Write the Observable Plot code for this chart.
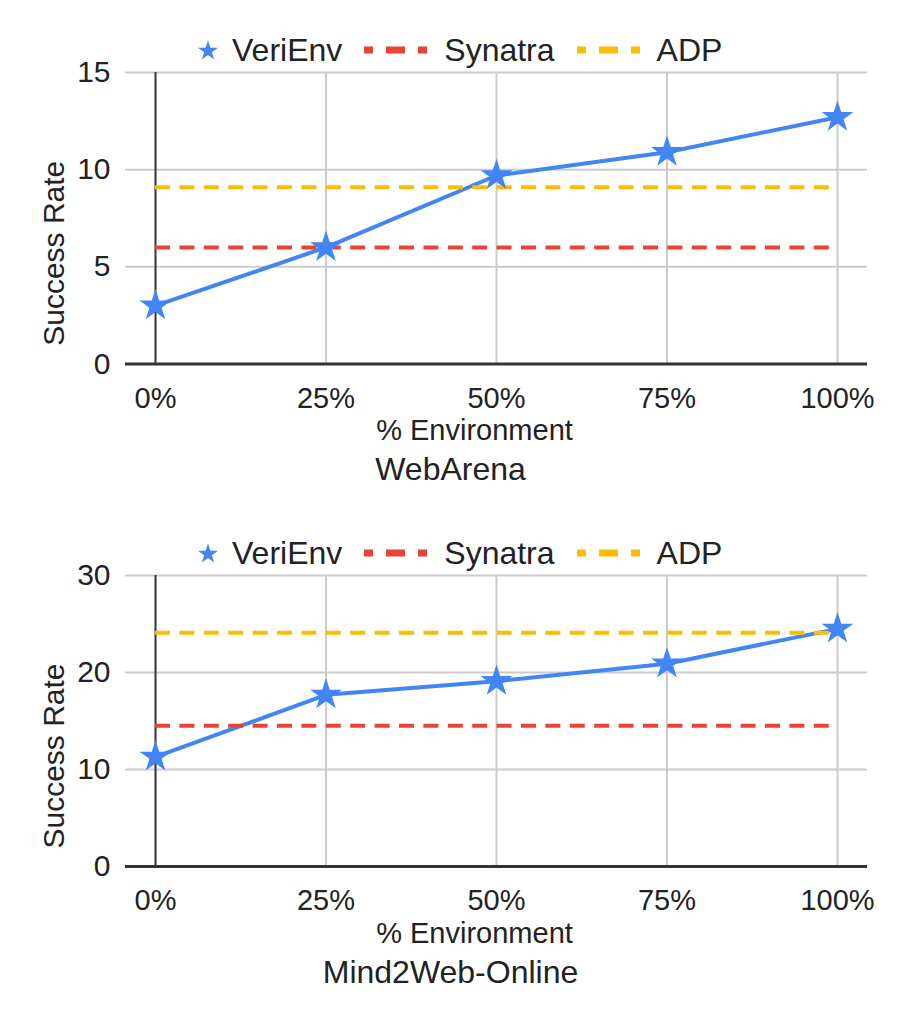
<!DOCTYPE html>
<html>
<head>
<meta charset="utf-8">
<script src="https://cdn.jsdelivr.net/npm/d3@7"></script>
<script src="https://cdn.jsdelivr.net/npm/@observablehq/plot@0.6"></script>
<style>
  html, body { margin: 0; padding: 0; background: #fff; }
  body { width: 897px; font-family: "Liberation Sans", Arial, sans-serif; color: #222; }
  .panel { position: relative; width: 897px; }
  .legend { position: absolute; left: 196px; display: flex; align-items: center; font-size: 32px; line-height: 1; white-space: nowrap; }
  .legend svg { display: block; }
  .legend .item { display: flex; align-items: center; }
</style>
</head>
<body>
<div id="chart"></div>
<script>
// Share of training environments used (x axis)
const pct = [0, 25, 50, 75, 100];

// Series names and colours
const seriesNames = ["VeriEnv", "Synatra", "ADP"];
const seriesColors = ["#4285F4", "#EA4335", "#FBBC04"];

// WebArena success rates
const webarenaVeriEnv = [3.0, 6.0, 9.7, 10.9, 12.7];
const webarenaSynatra = 6.0;
const webarenaADP = 9.1;
const webarenaTicks = [0, 5, 10, 15];

// Mind2Web-Online success rates
const m2wVeriEnv = [11.3, 17.7, 19.1, 20.9, 24.5];
const m2wSynatra = 14.5;
const m2wADP = 24.1;
const m2wTicks = [0, 10, 20, 30];

const panelTitles = ["WebArena", "Mind2Web-Online"];
const xLabel = "% Environment";
const yLabel = "Success Rate";

const font = `"Liberation Sans", Arial, sans-serif`;

function legend(top) {
  const div = document.createElement("div");
  div.className = "legend";
  div.style.top = top + "px";
  // VeriEnv: star symbol
  const starItem = document.createElement("div");
  starItem.className = "item";
  const s = d3.create("svg").attr("width", 24).attr("height", 24);
  s.append("path")
    .attr("transform", "translate(12,13)")
    .attr("d", d3.symbol(d3.symbolStar, 125)())
    .attr("fill", seriesColors[0]);
  starItem.append(s.node());
  const t0 = document.createElement("span");
  t0.textContent = seriesNames[0];
  t0.style.marginLeft = "12px";
  starItem.append(t0);
  div.append(starItem);
  // Synatra / ADP: dashed swatches
  [1, 2].forEach(i => {
    const item = document.createElement("div");
    item.className = "item";
    item.style.marginLeft = "22px";
    const sw = d3.create("svg").attr("width", 63).attr("height", 10);
    sw.append("line")
      .attr("x1", 0).attr("x2", 63).attr("y1", 5).attr("y2", 5)
      .attr("stroke", seriesColors[i]).attr("stroke-width", 7)
      .attr("stroke-dasharray", "19 13").attr("stroke-dashoffset", 10);
    item.append(sw.node());
    const t = document.createElement("span");
    t.textContent = seriesNames[i];
    t.style.marginLeft = "17px";
    item.append(t);
    div.append(item);
  });
  return div;
}

function panel({title, values, synatra, adp, yTicks, height, marginTop, marginBottom, legendTop}) {
  const data = pct.map((p, i) => ({p, v: values[i]}));
  const wrap = document.createElement("div");
  wrap.className = "panel";
  const chart = Plot.plot({
    width: 897,
    height,
    marginTop,
    marginBottom,
    marginLeft: 125,
    marginRight: 30,
    style: {fontFamily: font, fontSize: "29px", color: "#222", background: "#fff", overflow: "visible"},
    x: {domain: [pct[0], pct[pct.length - 1]], inset: 30},
    y: {domain: [yTicks[0], yTicks[yTicks.length - 1]]},
    marks: [
      Plot.gridY(yTicks.slice(1), {stroke: "#cccccc", strokeOpacity: 1, strokeWidth: 2}),
      Plot.gridX(pct.slice(1), {stroke: "#cccccc", strokeOpacity: 1, strokeWidth: 2}),
      Plot.ruleX([pct[0]], {stroke: "#333", strokeWidth: 2}),
      Plot.ruleY([yTicks[0]], {stroke: "#333", strokeWidth: 3}),
      Plot.axisY({ticks: yTicks, tickSize: 0, tickPadding: 15, label: null, fontSize: 30}),
      Plot.axisX({ticks: pct, tickFormat: d => d + "%", tickSize: 0, tickPadding: 23, label: null, fontSize: 29}),
      Plot.line(data, {x: "p", y: "v", stroke: seriesColors[0], strokeWidth: 4}),
      Plot.ruleY([synatra], {x1: pct[0], x2: pct[pct.length - 1], stroke: seriesColors[1], strokeWidth: 4, strokeDasharray: "15 9.4"}),
      Plot.ruleY([adp], {x1: pct[0], x2: pct[pct.length - 1], stroke: seriesColors[2], strokeWidth: 4, strokeDasharray: "15 9.4"}),
      Plot.dot(data, {x: "p", y: "v", symbol: "star", r: 10, fill: seriesColors[0], stroke: "none"}),
      Plot.text([yLabel], {frameAnchor: "left", textAnchor: "middle", lineAnchor: "middle", rotate: -90, dx: -71, dy: 35, fontSize: 30, fill: "#222"}),
      Plot.text([xLabel], {frameAnchor: "bottom", textAnchor: "middle", lineAnchor: "middle", dx: -22, dy: 67, fontSize: 29, fill: "#222"}),
      Plot.text([title], {frameAnchor: "bottom", textAnchor: "middle", lineAnchor: "middle", dx: -46, dy: 106, fontSize: 32, fill: "#222"})
    ]
  });
  wrap.append(chart);
  wrap.append(legend(legendTop));
  return wrap;
}

const root = document.getElementById("chart");
root.append(panel({
  title: panelTitles[0], values: webarenaVeriEnv, synatra: webarenaSynatra, adp: webarenaADP,
  yTicks: webarenaTicks, height: 502, marginTop: 72, marginBottom: 138.5, legendTop: 34
}));
root.append(panel({
  title: panelTitles[1], values: m2wVeriEnv, synatra: m2wSynatra, adp: m2wADP,
  yTicks: m2wTicks, height: 522, marginTop: 73, marginBottom: 158, legendTop: 35
}));
</script>
</body>
</html>
